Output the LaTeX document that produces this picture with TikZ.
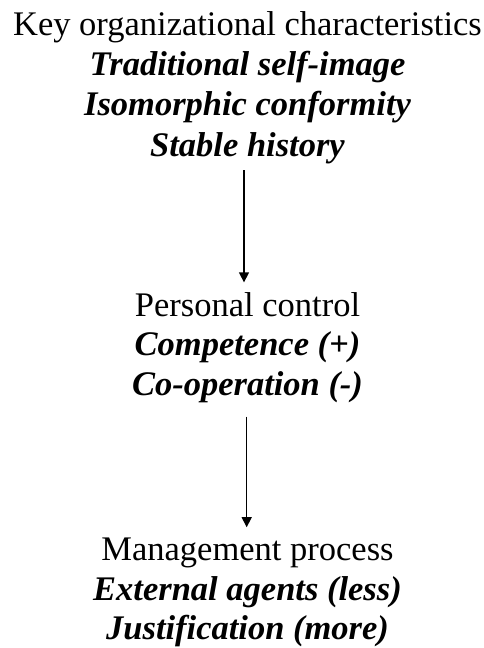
\documentclass[tikz,border=0pt]{standalone}
\usepackage{fontspec}
\setmainfont{Liberation Serif}
\usetikzlibrary{arrows.meta}
\begin{document}
\begin{tikzpicture}[x=1pt,y=-1pt,
  txt/.style={inner sep=0pt,anchor=base,font=\fontsize{34.5}{40}\selectfont},
  emph/.style={txt,font=\fontsize{34.5}{40}\selectfont\bfseries\itshape},
  arr/.style={line width=1.3pt,-{Triangle[length=10pt,width=10pt]}}]
\useasboundingbox (0,0) rectangle (484,648);
% first block
\node[txt]  (k1) at (247.5,35.5)  {Key organizational characteristics};
\node[emph] (k2) at (247.5,75.6)  {Traditional self-image};
\node[emph] (k3) at (247.5,115.8) {Isomorphic conformity};
\node[emph] (k4) at (247.5,156)   {Stable history};
% second block
\node[txt]  (p1) at (247.5,316)   {Personal control};
\node[emph] (p2) at (247.5,355.5) {Competence (+)};
\node[emph] (p3) at (247.5,395)   {Co-operation (-)};
% third block
\node[txt]  (m1) at (247.5,560.5) {Management process};
\node[emph] (m2) at (247.5,600)   {External agents (less)};
\node[emph] (m3) at (247.5,639.5) {Justification (more)};
% connectors
\coordinate (a1) at (244,0);
\coordinate (a2) at (246.7,0);
\draw[arr] ([yshift=-6.5pt]k4.south -| a1) -- ([yshift=9.5pt]p1.north -| a1);
\draw[arr] ([yshift=-14pt]p3.south -| a2) -- ([yshift=10.5pt]m1.north -| a2);
\end{tikzpicture}
\end{document}
